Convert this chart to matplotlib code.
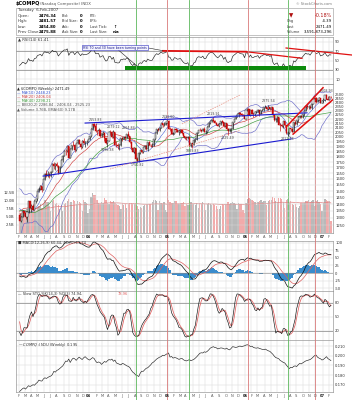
import numpy as np
import pandas as pd
import matplotlib
matplotlib.use("Agg")
import matplotlib.pyplot as plt
from matplotlib.patches import Rectangle
from matplotlib.lines import Line2D
from matplotlib.ticker import NullLocator

# ---------------- data ----------------
start_date = "2003-02-07"   # first weekly bar (Friday)

# warm-up weeks (Jun 2002 - Jan 2003) used only for indicators
pre_closes = [1535, 1504, 1440, 1463, 1448, 1373, 1319, 1262, 1280, 1306, 1361, 1380, 1315, 1295, 1291,
              1222, 1199, 1139, 1210, 1287, 1331, 1360, 1359, 1411, 1468, 1479, 1422, 1362, 1387, 1348,
              1387, 1448, 1376, 1342, 1321]
pre_highs = [1620, 1560, 1530, 1475, 1465, 1450, 1390, 1335, 1345, 1315, 1375, 1425, 1380, 1340, 1320,
             1300, 1245, 1230, 1215, 1290, 1335, 1365, 1425, 1415, 1475, 1480, 1490, 1420, 1410, 1390,
             1390, 1450, 1470, 1385, 1350]
pre_lows = [1520, 1460, 1435, 1375, 1375, 1360, 1310, 1192, 1240, 1230, 1300, 1355, 1305, 1270, 1265,
            1220, 1185, 1135, 1108, 1190, 1250, 1300, 1345, 1320, 1395, 1440, 1415, 1360, 1350, 1330,
            1320, 1380, 1375, 1340, 1300]

closes = [
    1282, 1310, 1349, 1337, 1306, 1340, 1421, 1370, 1383, 1358, 1425, 1434, 1502, 1520, 1538, 1510, 1596,
    1646, 1627, 1645, 1625, 1663, 1733, 1709, 1731, 1715, 1653, 1702, 1765, 1810, 1858, 1856, 1905, 1792,
    1880, 1915, 1912, 1865, 1932, 1970, 1930, 1893, 1960, 1937, 1949, 1951, 1973,
    2006, 2086, 2140, 2124, 2066, 2064, 2073, 2007, 2030, 2047, 1985, 1940, 1960, 2057, 2052, 1995, 2049,
    1920, 1917, 1904, 1912, 1987, 1978, 2000, 1987, 2026, 2006, 1946, 1883, 1849, 1887, 1777, 1757, 1838,
    1862, 1844, 1894, 1910, 1879, 1942, 1920, 1911, 1915, 1975, 2038, 2085, 2070, 2102, 2148, 2129, 2135,
    2154, 2175,
    2089, 2087, 2034, 2035, 2086, 2076, 2058, 2065, 2071, 2041, 2008, 1991, 1985, 2000, 1908, 1932, 1921,
    1967, 1977, 2047, 2075, 2071, 2064, 2090, 2053, 2057, 2112, 2156, 2179, 2185, 2177, 2157, 2135, 2120,
    2141, 2175, 2160, 2116, 2152, 2090, 2064, 2082, 2089, 2169, 2202, 2227, 2263, 2273, 2256, 2253, 2249,
    2205,
    2305, 2317, 2247, 2304, 2262, 2261, 2282, 2287, 2302, 2262, 2306, 2313, 2340, 2340, 2326, 2342, 2322,
    2343, 2243, 2193, 2210, 2219, 2135, 2129, 2121, 2172, 2131, 2037, 2039, 2094, 2085, 2057, 2163, 2140,
    2184, 2228, 2236, 2218, 2258, 2300, 2357, 2342, 2350, 2330, 2389, 2445, 2460, 2413, 2437, 2457, 2401,
    2415,
    2434, 2502, 2452, 2435, 2475, 2471.49]

opens = [
    1320, 1282, 1310, 1349, 1337, 1306, 1340, 1421, 1370, 1383, 1358, 1425, 1434, 1502, 1520, 1538, 1510,
    1596, 1646, 1627, 1645, 1625, 1663, 1733, 1709, 1731, 1715, 1653, 1702, 1765, 1810, 1858, 1856, 1905,
    1792, 1880, 1915, 1912, 1865, 1932, 1970, 1930, 1893, 1960, 1937, 1949, 1951,
    1973, 2006, 2086, 2140, 2124, 2066, 2064, 2073, 2007, 2030, 2047, 1985, 1940, 1960, 2057, 2052, 1995,
    2049, 1920, 1917, 1904, 1912, 1987, 1978, 2000, 1987, 2026, 2006, 1946, 1883, 1849, 1887, 1777, 1757,
    1838, 1862, 1844, 1894, 1910, 1879, 1942, 1920, 1911, 1915, 1975, 2038, 2085, 2070, 2102, 2148, 2129,
    2135, 2154,
    2175, 2089, 2087, 2034, 2035, 2086, 2076, 2058, 2065, 2071, 2041, 2008, 1991, 1985, 2000, 1908, 1932,
    1921, 1967, 1977, 2047, 2075, 2071, 2064, 2090, 2053, 2057, 2112, 2156, 2179, 2185, 2177, 2157, 2135,
    2120, 2141, 2175, 2160, 2116, 2152, 2090, 2064, 2082, 2089, 2169, 2202, 2227, 2263, 2273, 2256, 2253,
    2249,
    2205, 2305, 2317, 2247, 2304, 2262, 2261, 2282, 2287, 2302, 2262, 2306, 2313, 2340, 2340, 2326, 2342,
    2322, 2343, 2243, 2193, 2210, 2219, 2135, 2129, 2121, 2172, 2131, 2037, 2039, 2094, 2085, 2057, 2163,
    2140, 2184, 2228, 2236, 2218, 2258, 2300, 2357, 2342, 2350, 2330, 2389, 2445, 2460, 2413, 2437, 2457,
    2401,
    2415, 2434, 2502, 2452, 2435, 2475]

highs = [
    1336, 1312, 1355, 1352, 1346, 1342, 1425, 1421, 1400, 1400, 1427, 1440, 1503, 1535, 1545, 1540, 1600,
    1650, 1677, 1665, 1650, 1670, 1740, 1754, 1740, 1750, 1720, 1710, 1780, 1812, 1870, 1875, 1910, 1908,
    1885, 1920, 1955, 1925, 1940, 1975, 1978, 1940, 1965, 1985, 1960, 1965, 1980,
    2010, 2095, 2145, 2150, 2154, 2075, 2100, 2080, 2045, 2065, 2050, 1990, 1970, 2060, 2070, 2065, 2079,
    2055, 1960, 1935, 1925, 1990, 2000, 2005, 2010, 2035, 2064, 2010, 1960, 1900, 1895, 1890, 1800, 1845,
    1865, 1870, 1897, 1918, 1920, 1945, 1962, 1930, 1935, 1980, 2040, 2090, 2100, 2105, 2150, 2155, 2165,
    2160, 2185,
    2192, 2110, 2095, 2050, 2090, 2095, 2085, 2070, 2075, 2080, 2045, 2015, 2010, 2005, 2005, 1940, 1940,
    1975, 1990, 2050, 2078, 2095, 2080, 2095, 2105, 2070, 2115, 2160, 2180, 2195, 2220, 2185, 2170, 2150,
    2150, 2180, 2185, 2165, 2155, 2155, 2100, 2095, 2095, 2170, 2205, 2230, 2265, 2280, 2280, 2275, 2265,
    2255,
    2310, 2332, 2325, 2310, 2315, 2270, 2290, 2295, 2320, 2305, 2310, 2325, 2345, 2365, 2345, 2376, 2350,
    2350, 2345, 2250, 2215, 2230, 2225, 2150, 2145, 2175, 2175, 2135, 2060, 2100, 2100, 2095, 2165, 2170,
    2185, 2230, 2245, 2245, 2265, 2305, 2360, 2365, 2370, 2365, 2395, 2450, 2465, 2468, 2445, 2470, 2460,
    2430,
    2455, 2505, 2509, 2480, 2480, 2482]

lows = [
    1280, 1275, 1305, 1315, 1295, 1271, 1338, 1365, 1345, 1355, 1355, 1405, 1420, 1490, 1510, 1490, 1508,
    1590, 1620, 1620, 1605, 1615, 1660, 1690, 1680, 1700, 1640, 1650, 1700, 1755, 1805, 1820, 1850, 1790,
    1785, 1870, 1905, 1850, 1860, 1925, 1925, 1880, 1890, 1930, 1900, 1920, 1945,
    1965, 2000, 2070, 2110, 2050, 2020, 2055, 2000, 1995, 2020, 1960, 1925, 1896, 1955, 2035, 1985, 1985,
    1918, 1900, 1880, 1866, 1910, 1955, 1975, 1970, 1985, 2000, 1940, 1880, 1845, 1840, 1775, 1751, 1755,
    1830, 1835, 1840, 1880, 1870, 1860, 1915, 1895, 1900, 1905, 1970, 2030, 2065, 2065, 2095, 2110, 2120,
    2130, 2150,
    2085, 2060, 2030, 2020, 2030, 2050, 2050, 2020, 2040, 2035, 2000, 1975, 1970, 1975, 1905, 1895, 1890,
    1915, 1950, 1970, 2040, 2065, 2050, 2060, 2050, 2030, 2040, 2105, 2140, 2160, 2170, 2150, 2130, 2115,
    2110, 2135, 2150, 2105, 2110, 2080, 2025, 2050, 2040, 2085, 2160, 2195, 2220, 2225, 2245, 2240, 2235,
    2200,
    2200, 2300, 2245, 2240, 2255, 2220, 2240, 2270, 2280, 2240, 2255, 2290, 2300, 2330, 2305, 2310, 2310,
    2315, 2240, 2180, 2160, 2170, 2130, 2065, 2110, 2100, 2125, 2035, 2013, 2030, 2060, 2050, 2055, 2130,
    2135, 2160, 2215, 2210, 2215, 2240, 2295, 2320, 2325, 2320, 2325, 2385, 2440, 2395, 2410, 2425, 2400,
    2395,
    2390, 2425, 2450, 2430, 2430, 2454]

volumes_b = [
    6.2, 5.8, 6.5, 6.3, 6.8, 7.4, 8.0, 6.9, 7.1, 6.5, 6.7, 6.4, 7.9, 8.4, 8.8, 7.8, 8.9, 10.2, 9.6, 9.5,
    8.4, 6.7, 9.8, 10.1, 9.0, 9.3, 8.7, 7.5, 8.6, 6.9, 8.8, 9.3, 9.9, 10.4, 9.7, 9.5, 10.3, 9.9, 9.1, 9.8,
    9.6, 9.2, 6.9, 10.2, 9.7, 9.4, 6.3,
    7.5, 11.2, 12.3, 11.6, 11.8, 10.2, 9.4, 8.8, 9.6, 9.4, 10.8, 10.1, 9.2, 8.9, 9.8, 9.6, 9.9, 9.3, 9.0,
    8.7, 8.2, 7.3, 9.3, 8.6, 8.8, 7.6, 8.8, 9.4, 9.2, 9.1, 8.9, 9.3, 8.2, 7.4, 7.9, 7.6, 8.2, 8.6, 8.9, 8.8,
    9.1, 8.9, 9.6, 10.1, 10.3, 9.8, 7.1, 9.9, 9.4, 9.1, 9.5, 7.2, 6.4,
    10.1, 9.7, 9.4, 9.3, 9.8, 10.0, 9.1, 8.8, 9.2, 9.4, 9.6, 8.3, 9.1, 8.5, 9.9, 9.6, 8.8, 8.9, 8.6, 9.2,
    7.8, 9.3, 8.8, 9.6, 9.1, 7.2, 8.9, 9.2, 8.9, 8.6, 9.0, 8.7, 8.2, 7.4, 7.3, 8.4, 8.9, 8.6, 8.8, 9.1,
    9.5, 8.9, 9.3, 9.6, 9.2, 9.0, 7.4, 9.4, 9.0, 8.9, 7.1, 6.2,
    9.4, 10.6, 10.8, 10.5, 10.1, 9.8, 9.6, 8.7, 9.7, 9.9, 10.2, 9.6, 9.8, 10.0, 8.7, 9.9, 10.1, 10.3, 11.2,
    10.9, 9.8, 9.6, 10.7, 10.9, 10.4, 9.7, 7.8, 10.1, 10.6, 9.3, 9.9, 8.9, 8.7, 9.1, 8.1, 7.6, 8.4, 9.4,
    9.2, 9.3, 9.8, 9.9, 10.1, 9.6, 9.9, 10.3, 8.4, 9.8, 10.2, 9.7, 8.9, 6.8,
    9.2, 10.6, 10.3, 9.9, 10.0, 3.8]

ratio = [
    .1630, .1645, .1660, .1668, .1655, .1672, .1690, .1682, .1690, .1700,
    .1695, .1712, .1725, .1748, .1740, .1738, .1760, .1772, .1765, .1775, .1785,
    .1790, .1805, .1838, .1830, .1848, .1855, .1868, .1880, .1895, .1920, .1945,
    .1940, .1965, .1930, .1958, .1975, .1968, .1952, .1970, .1985, .1972, .1960, .1978, .1990, .1975,
    .1962, .1955, .1968, .1980, .1972, .1945, .1928, .1935, .1930, .1910, .1925, .1940, .1932,
    .1948, .1960, .1955, .1965, .1942, .1955, .1925,
    .1918, .1912, .1905, .1920, .1915, .1905, .1895, .1890, .1878, .1850, .1830, .1818, .1800, .1795, .1785,
    .1820, .1840, .1838, .1855, .1870, .1875, .1890, .1905, .1925, .1935, .1950, .1965, .1975, .1985, .1990,
    .2005, .2000, .2010, .2020, .2028,
    .1985, .1992, .1975, .1980, .1978, .1970, .1962, .1968, .1972, .1958, .1950, .1946, .1952, .1960, .1948, .1955,
    .1962, .1975, .1990, .2008, .2025, .2030, .2028, .2040, .2035, .2045, .2060, .2078, .2085, .2093,
    .2085, .2082, .2070, .2075, .2080, .2079, .2072, .2068, .2078, .2065, .2060, .2075, .2093, .2090, .2085,
    .2088, .2095, .2100, .2092, .2098, .2102, .2110,
    .2113, .2105, .2095, .2098, .2085, .2080, .2078, .2082, .2075, .2070, .2065, .2062, .2068, .2058, .2050,
    .2045, .2030, .2015, .1995, .1980,
    .1975, .1968, .1950, .1942, .1930, .1925, .1905, .1885, .1867,
    .1880, .1875, .1890, .1895, .1888, .1905, .1920, .1915, .1925, .1935, .1945, .1950, .1956, .1960, .1970,
    .1985, .2000, .2007, .1985, .1975, .1968, .1955, .1962, .1975, .1990, .1970, .1960, .1950]

# price annotations (week index, text, where)
price_labels = [(51, "2153.83", "high"), (63, "2079.12", "high"), (73, "2064.84", "high"),
                (59, "1896.38", "low"), (79, "1750.82", "low"), (100, "2191.60", "high"),
                (116, "1889.83", "low"), (130, "2219.91", "high"), (140, "2025.49", "low"),
                (167, "2375.54", "high"), (180, "2012.78", "low"), (206, "2508.93", "high")]

# vertical marker lines (week positions) and colours
marker_weeks = [78.2, 99.0, 113.8, 153.4, 180.2, 198.5]
marker_colors = ["#5cb85c", "#d97a7a", "#5cb85c", "#d97a7a", "#5cb85c", "#d97a7a"]

# ---------------- indicators ----------------
n = len(closes)
npre = len(pre_closes)
c_all = pd.Series(pre_closes + closes, dtype=float)
h_all = pd.Series(pre_highs + highs, dtype=float)
l_all = pd.Series(pre_lows + lows, dtype=float)

ma10 = c_all.rolling(10).mean().values[npre:]
ma20s = c_all.rolling(20).mean()
ma20 = ma20s.values[npre:]
ma40 = c_all.rolling(40, min_periods=30).mean().values[npre:]
sd20 = c_all.rolling(20).std(ddof=0).values[npre:]
bb_up = ma20 + 2 * sd20
bb_lo = ma20 - 2 * sd20

ema12 = c_all.ewm(span=12, adjust=False).mean()
ema26 = c_all.ewm(span=26, adjust=False).mean()
macd = ema12 - ema26
signal = macd.ewm(span=9, adjust=False).mean()
hist = (macd - signal).values[npre:]
macd = macd.values[npre:]
signal = signal.values[npre:]

delta = c_all.diff()
gain = delta.clip(lower=0).ewm(alpha=1 / 14, adjust=False).mean()
loss = (-delta.clip(upper=0)).ewm(alpha=1 / 14, adjust=False).mean()
rsi = (100 - 100 / (1 + gain / loss)).values[npre:]

ll = l_all.rolling(14).min()
hh = h_all.rolling(14).max()
fk = 100 * (c_all - ll) / (hh - ll)
sk = fk.rolling(3).mean()
sdd = sk.rolling(3).mean()
sk = sk.values[npre:]
sdd = sdd.values[npre:]

vol = np.array(volumes_b)
vol_ema = pd.Series(vol).ewm(span=60).mean().values

x = np.arange(n)
dates = pd.date_range(start_date, periods=n, freq="W-FRI")
o = np.array(opens, float)
c = np.array(closes, float)
hi = np.array(highs, float)
lo = np.array(lows, float)
prev = np.concatenate([[pre_closes[-1]], c[:-1]])

# ---------------- layout ----------------
W, H = 352, 400
fig = plt.figure(figsize=(W / 100, H / 100), dpi=100)
fig.patch.set_facecolor("white")
XL, XR = 16, 333
xlim = (-2.4, 210.4)


def pax(y0, y1, x0=XL, x1=XR):
    return fig.add_axes([x0 / W, 1 - y1 / H, (x1 - x0) / W, (y1 - y0) / H])


def fx(px):
    return px / W


def fy(py):
    return 1 - py / H


FS = 3.0
GRID = "#d9d9d9"
FRAME = "#9a9a9a"

# month positions
mpos, mlab, mbold = [], [], []
for i, d in enumerate(dates):
    if i == 0 or d.month != dates[i - 1].month:
        mpos.append(i - 0.5)
        if d.month == 1:
            mlab.append("%02d" % (d.year % 100))
            mbold.append(True)
        else:
            mlab.append("JFMAMJJASOND"[d.month - 1])
            mbold.append(False)


def style(ax, yticks, ylabels, ylim, log=False):
    ax.set_xlim(*xlim)
    if log:
        ax.set_yscale("log")
    ax.set_ylim(*ylim)
    ax.set_yticks(yticks)
    ax.set_yticklabels(ylabels)
    ax.yaxis.set_minor_locator(NullLocator())
    ax.yaxis.tick_right()
    ax.set_xticks(mpos)
    ax.set_xticklabels([])
    ax.tick_params(axis="both", length=0, labelsize=FS - 0.3, colors="#333333", pad=1.5)
    ax.grid(True, color=GRID, lw=0.35)
    ax.set_axisbelow(True)
    for s in ax.spines.values():
        s.set_color(FRAME)
        s.set_linewidth(0.5)


def month_row(py):
    for p, lab, b in zip(mpos, mlab, mbold):
        xx = XL + (p - xlim[0]) / (xlim[1] - xlim[0]) * (XR - XL)
        fig.text(fx(xx), fy(py), lab, fontsize=FS - 0.4, ha="center", va="center",
                 color="#222222" if b else "#555555", fontweight="bold" if b else "normal")


# ---------------- header ----------------
fig.text(fx(16), fy(4), "$COMPQ", fontsize=3.6, fontweight="bold", va="center", ha="left")
fig.text(fx(40), fy(4), "(Nasdaq Composite) INDX", fontsize=2.8, va="center", ha="left", color="#555555")
fig.text(fx(332), fy(4), "\u00a9 StockCharts.com", fontsize=2.6, va="center", ha="right", color="#777777")
fig.add_artist(Rectangle((fx(16), fy(35)), (XR - 16) / W, 27 / H, transform=fig.transFigure,
                         fill=False, ec="#aaaaaa", lw=0.5))
HF = 2.8
fig.text(fx(18), fy(10.5), "Tuesday  6-Feb-2007", fontsize=HF, va="center", color="#333333")
rows_y = [16, 21.3, 26.6, 32]
for yy, lab, val in zip(rows_y, ["Open:", "High:", "Low:", "Prev Close:"],
                        ["2476.34", "2481.57", "2454.80", "2475.88"]):
    fig.text(fx(18), fy(yy), lab, fontsize=HF, va="center", color="#333333")
    fig.text(fx(56), fy(yy), val, fontsize=HF, va="center", ha="right", fontweight="bold")
for yy, lab in zip(rows_y, ["Bid:", "Bid Size:", "Ask:", "Ask Size:"]):
    fig.text(fx(62), fy(yy), lab, fontsize=HF - 0.2, va="center", color="#333333")
    fig.text(fx(82), fy(yy), "0", fontsize=HF, va="center", ha="right", fontweight="bold")
for yy, lab, val in zip(rows_y, ["P/E:", "EPS:", "Last Tick:", "Last Size:"], ["", "", "\u2191", "n/a"]):
    fig.text(fx(90), fy(yy), lab, fontsize=HF - 0.2, va="center", color="#333333")
    fig.text(fx(113), fy(yy), val, fontsize=HF, va="center", ha="left", fontweight="bold")
fig.text(fx(289), fy(15.5), "\u25bc", fontsize=4, va="center", color="#b01010")
fig.text(fx(332), fy(15.5), "-0.18%", fontsize=HF + 0.7, va="center", ha="right", color="#b01010")
for yy, lab, val in zip([21, 26.5, 32], ["Chg", "Last", "Volume"], ["-4.39", "2471.49", "3,591,873,296"]):
    fig.text(fx(287), fy(yy), lab, fontsize=HF - 0.3, va="center", color="#333333")
    fig.text(fx(332), fy(yy), val, fontsize=HF, va="center", ha="right")

# ---------------- RSI panel ----------------
ax_rsi = pax(37, 84)
style(ax_rsi, [90, 70, 50, 30, 10], ["90", "70", "50", "30", "10"], (0, 100))
ax_rsi.axhline(70, color="#888888", lw=0.5)
ax_rsi.axhline(30, color="#888888", lw=0.5)
ax_rsi.plot(x, rsi, color="#222222", lw=0.45)
ax_rsi.add_patch(Rectangle((70.8, 29.8), 192.3 - 70.8, 8.5, color="#0b8a0b", lw=0, zorder=3))
ax_rsi.plot([96.3, 152], [70.5, 68.7], color="#e01010", lw=1.3, zorder=4)
ax_rsi.plot([152, 189.6], [68.7, 54.7], color="#e01010", lw=0.9, zorder=4)
ax_rsi.plot([178.9, 223], [76.6, 61.7], color="#e01010", lw=0.9, zorder=4, clip_on=False)
ax_rsi.text(-1, 94, "\u25b2 RSI(14) 61.41", fontsize=FS - 0.2, va="center", ha="left", color="#333333")
fig.text(fx(115), fy(47.5), "RSI 70 and 30 have been turning points", fontsize=2.3, ha="center", va="center",
         color="#1a1a8a", bbox=dict(boxstyle="square,pad=0.25", fc="#f4f4ff", ec="#3030c0", lw=0.4))
fig.add_artist(Line2D([fx(148.5), fx(163)], [fy(48), fy(50.7)], transform=fig.transFigure, color="#222222", lw=0.4))
fig.add_artist(Line2D([fx(118), fx(137)], [fy(49.7), fy(66)], transform=fig.transFigure, color="#222222", lw=0.4))

# ---------------- price panel ----------------
ax_p = pax(84, 233)
ax_v = ax_p.twinx()
ptick = list(range(1250, 2501, 50))
style(ax_p, ptick, [str(t) for t in ptick], (1200, 2650), log=True)
ax_v.set_ylim(0, 46)
ax_v.set_xlim(*xlim)
ax_v.yaxis.tick_left()
ax_v.set_yticks([2.5, 5, 7.5, 10, 12.5])
ax_v.set_yticklabels(["2.5B", "5.0B", "7.5B", "10.0B", "12.5B"])
ax_v.tick_params(axis="y", length=0, labelsize=FS - 0.3, colors="#333333", pad=1.0)
ax_v.yaxis.set_minor_locator(NullLocator())
for s in ax_v.spines.values():
    s.set_visible(False)
vcol = np.where(c < prev, "#f2aaaa", "#b9b9b9")
ax_v.bar(x, vol, width=0.85, color=vcol, lw=0)
ax_v.plot(x, vol_ema, color="#e08080", lw=0.5)
ax_p.set_zorder(ax_v.get_zorder() + 1)
ax_p.patch.set_visible(False)
ax_v.patch.set_facecolor("white")
ax_v.set_zorder(ax_p.get_zorder() - 1)

ax_p.plot(x, bb_up, color="#6a6ac8", lw=0.45)
ax_p.plot(x, bb_lo, color="#6a6ac8", lw=0.45)
ax_p.plot(x, ma10, color="#3050d0", lw=0.35)
ax_p.plot(x, ma20, color="#d04040", lw=0.45)
ax_p.plot(x, ma40, color="#3a9a3a", lw=0.45)
down = c < prev
ax_p.vlines(x, lo, hi, colors=np.where(down, "#c00000", "#111111"), lw=0.45, zorder=3)
body_lo = np.minimum(o, c)
body_h = np.maximum(np.abs(c - o), 1.5)
ax_p.bar(x, body_h, bottom=body_lo, width=0.75,
         color=np.where(c < o, "#d01010", "white"),
         edgecolor=np.where(down, "#c00000", "#111111"), lw=0.3, zorder=4)

# trendlines
ax_p.plot([44, 193], [2153, 2273], color="#1a1ad0", lw=0.8, zorder=5)
ax_p.plot([15.8, 182.2], [1624, 1978], color="#1a1ad0", lw=0.8, zorder=5)
ax_p.plot([178.9, 203.7], [2108, 2598], color="#e01010", lw=1.1, zorder=5)
ax_p.plot([183.6, 210.4], [2030, 2440], color="#e01010", lw=1.1, zorder=5)
ax_p.plot([60.7, 148], [1686, 2070], color="#e89080", lw=0.5, ls=(0, (2, 1.5)), zorder=5)
ax_p.plot([109, 148], [2143, 2499], color="#e89080", lw=0.5, ls=(0, (2, 1.5)), zorder=5)

for idx, txt, where in price_labels:
    if where == "high":
        ax_p.text(idx, hi[idx] * 1.006, txt, fontsize=2.3, ha="center", va="bottom", color="#444444", zorder=6)
    else:
        ax_p.text(idx, lo[idx] / 1.006, txt, fontsize=2.3, ha="center", va="top", color="#444444", zorder=6)

leg = [("\u25b2 $COMPQ (Weekly) 2471.49", "#222222"), ("\u2014 MA(10) 2448.23", "#3050d0"),
       ("\u2014 MA(20) 2406.04", "#d04040"), ("\u2014 MA(40) 2298.21", "#3a9a3a"),
       ("\u2014 BB(20,2) 2286.84 - 2406.04 - 2525.23", "#555555"),
       ("\u25b2 Volume 3.76B, EMA(60) 9.17B", "#555555")]
for k, (t, col) in enumerate(leg):
    fig.text(fx(17), fy(89 + 4.1 * k), t, fontsize=FS - 0.4, va="center", ha="left", color=col)

month_row(237)

# ---------------- MACD panel ----------------
ax_m = pax(241, 291)
style(ax_m, [100, 75, 50, 25, 0, -25, -50], ["100", "75", "50", "25", "0", "-25", "-50"], (-59, 105))
ax_m.axhline(0, color="#888888", lw=0.4)
ax_m.bar(x, hist, width=1.0, color="#3a8ccc", lw=0)
ax_m.plot(x, signal, color="#e06060", lw=0.5)
ax_m.plot(x, macd, color="#111111", lw=0.5)
ax_m.text(-1, 99, "\u25a0 MACD(12,26,9) 60.44, 48.70, 11.74", fontsize=FS - 0.4, va="center", ha="left",
          color="#333333")

# ---------------- Slow STO panel ----------------
ax_s = pax(291, 340)
style(ax_s, [80, 50, 20], ["80", "50", "20"], (0, 105))
ax_s.axhline(80, color="#999999", lw=0.6)
ax_s.axhline(20, color="#999999", lw=0.6)
ax_s.plot(x, sdd, color="#e06060", lw=0.55)
ax_s.plot(x, sk, color="#111111", lw=0.45)
ax_s.text(-1, 98, "\u2014 Slow STO %K(14,3) %D(3) 74.94,", fontsize=FS - 0.4, va="center", ha="left",
          color="#333333")
ax_s.text(66, 98, "78.96", fontsize=FS - 0.4, va="center", ha="left", color="#e06060")

# ---------------- ratio panel ----------------
ax_r = pax(340, 392)
rt = [0.210, 0.200, 0.190, 0.180, 0.170]
style(ax_r, rt, ["%.3f" % t for t in rt], (0.1625, 0.2162))
ax_r.plot(x, ratio, color="#222222", lw=0.45)
ax_r.text(-1, 0.2115, "\u2014 $COMPQ:$INDU (Weekly) 0.195", fontsize=FS - 0.4, va="center", ha="left",
          color="#333333")
month_row(396)

# ---------------- vertical markers across the figure ----------------
for wk, col in zip(marker_weeks, marker_colors):
    xx = XL + (wk - xlim[0]) / (xlim[1] - xlim[0]) * (XR - XL)
    fig.add_artist(Line2D([fx(xx), fx(xx)], [fy(0), fy(400)], transform=fig.transFigure,
                          color=col, lw=0.6, zorder=0.5))

fig.savefig("out.png", dpi=100, facecolor="white")
